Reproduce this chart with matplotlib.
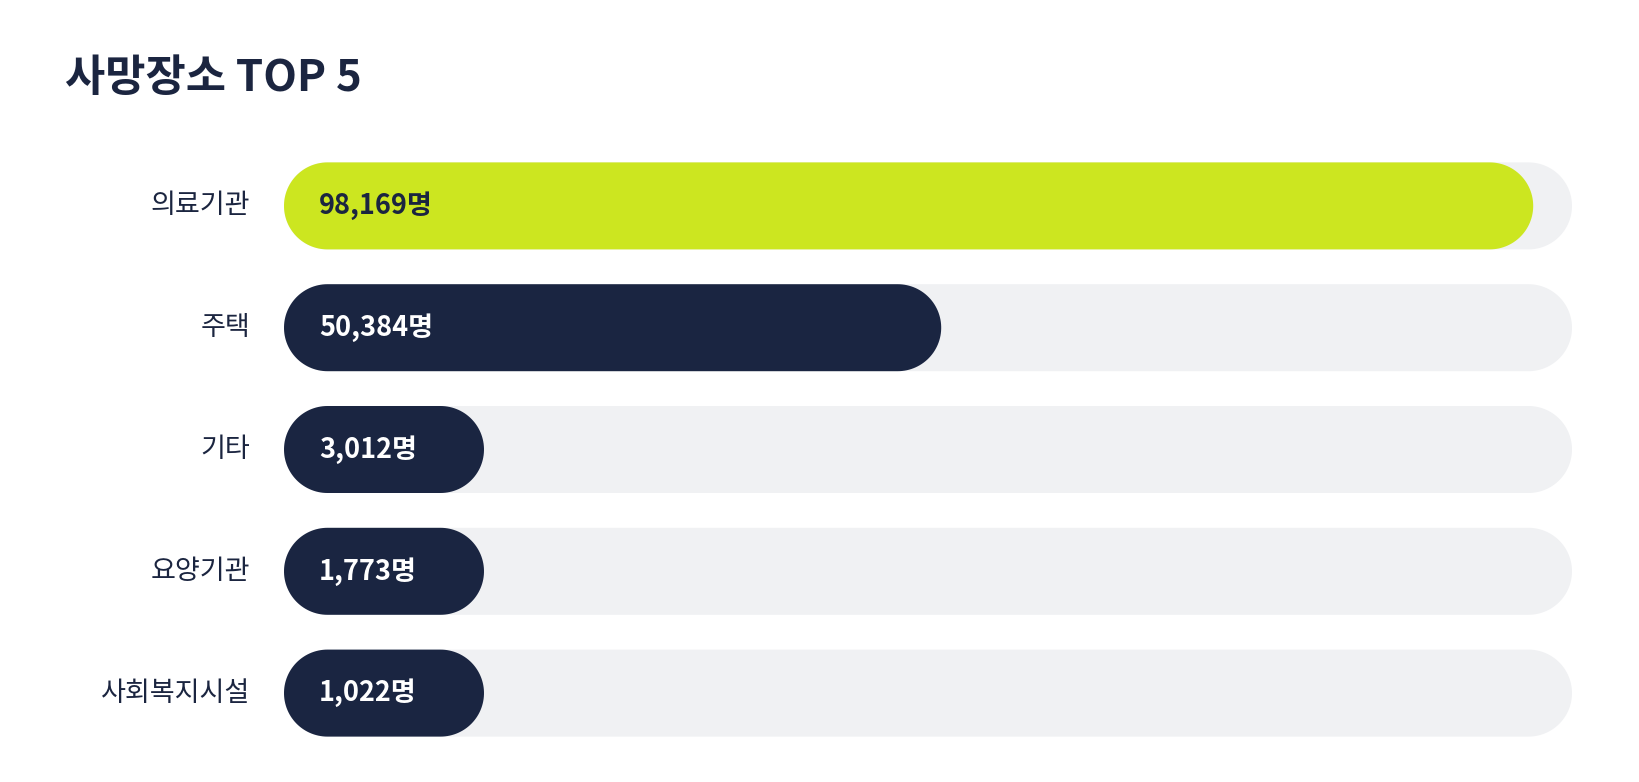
import matplotlib
matplotlib.use("Agg")
import numpy as np
import matplotlib.pyplot as plt
from matplotlib.patches import Polygon

plt.rcParams['font.family'] = ['Noto Sans CJK KR', 'DejaVu Sans']

title = "사망장소 TOP 5"
categories = ["의료기관", "주택", "기타", "요양기관", "사회복지시설"]
values = [98169, 50384, 3012, 1773, 1022]
unit = "명"

W, H = 1639, 782
LIME = "#CCE620"
NAVY = "#1A2541"
TRACK = "#F0F1F3"
TEXT = "#1B2540"

fig = plt.figure(figsize=(W / 100, H / 100), dpi=100)
fig.patch.set_facecolor("white")

# axes area in pixels
ax_left, ax_right = 284, 1572
ax_top, ax_bottom = 145, 754
ax = fig.add_axes([ax_left / W, (H - ax_bottom) / H,
                   (ax_right - ax_left) / W, (ax_bottom - ax_top) / H])
X0, XMAX = -2664, 101300
n = len(categories)
ax.set_xlim(X0, XMAX)
ax.set_ylim(n - 0.5, -0.5)
ax.axis("off")

px_per_x = (ax_right - ax_left) / (XMAX - X0)
px_per_y = (ax_bottom - ax_top) / n
bar_px = 87
bh = bar_px / px_per_y
r_x = (bar_px / 2) / px_per_x
r_y = bh / 2
min_w = 200 / px_per_x


def pill(x, y, w, color, z):
    t1 = np.linspace(np.pi / 2, 3 * np.pi / 2, 60)
    t2 = np.linspace(-np.pi / 2, np.pi / 2, 60)
    lx = x + r_x + r_x * np.cos(t1)
    ly = y + r_y * np.sin(t1)
    rx = x + w - r_x + r_x * np.cos(t2)
    ry = y + r_y * np.sin(t2)
    pts = np.column_stack([np.concatenate([lx, rx]), np.concatenate([ly, ry])])
    ax.add_patch(Polygon(pts, closed=True, facecolor=color,
                         edgecolor="none", zorder=z))


for i, (cat, v) in enumerate(zip(categories, values)):
    pill(X0, i, XMAX - X0, TRACK, 1)
    w = max(v - X0, min_w)
    pill(X0, i, w, LIME if i == 0 else NAVY, 2)
    ax.text(X0 + 35 / px_per_x, i, f"{v:,}{unit}", ha="left", va="center",
            fontsize=19.5, fontweight="bold",
            color=TEXT if i == 0 else "white", zorder=3)
    ax.text(X0 - 34 / px_per_x, i, cat, ha="right", va="center",
            fontsize=19.5, fontweight=500, color=TEXT, clip_on=False)

fig.text(65 / W, 1 - 78 / H, title, ha="left", va="center",
         fontsize=31.5, fontweight="bold", color=TEXT)

fig.savefig("out.png", dpi=100, facecolor="white")
